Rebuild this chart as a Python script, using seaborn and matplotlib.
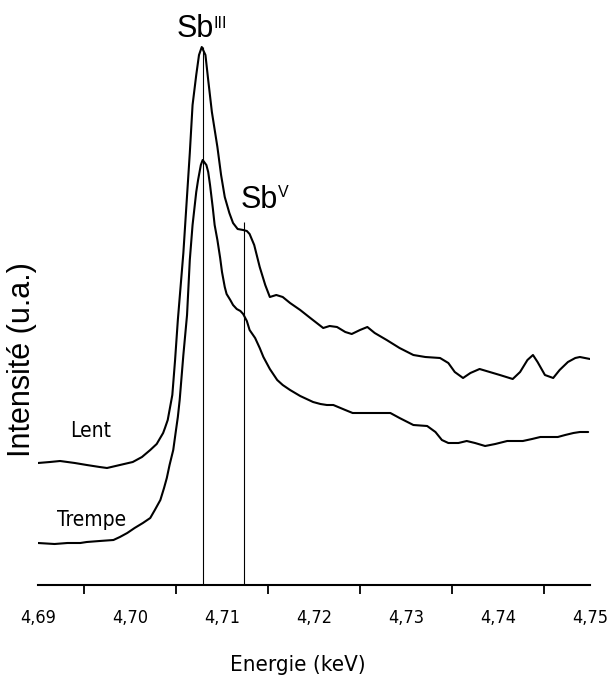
import matplotlib
matplotlib.use("Agg")
import matplotlib.pyplot as plt
from matplotlib.ticker import MultipleLocator, FuncFormatter
import pandas as pd
import seaborn as sns

# energie (keV) et intensite (u.a.)
lent_energy = [
    4.6900, 4.6913, 4.6924, 4.6940, 4.6953, 4.6967, 4.6975, 4.6989, 4.7003, 4.7013,
    4.7022, 4.7029, 4.7036, 4.7038, 4.7041, 4.7043, 4.7046, 4.7049, 4.7052, 4.7058,
    4.7061, 4.7065, 4.7068, 4.7072, 4.7075, 4.7078, 4.7082, 4.7085, 4.7089, 4.7095,
    4.7099, 4.7103, 4.7108, 4.7112, 4.7117, 4.7123, 4.7127, 4.7130, 4.7135, 4.7138,
    4.7141, 4.7147, 4.7152, 4.7159, 4.7166, 4.7174, 4.7185, 4.7196, 4.7210, 4.7217,
    4.7225, 4.7234, 4.7241, 4.7250, 4.7258, 4.7266, 4.7279, 4.7293, 4.7308, 4.7321,
    4.7337, 4.7346, 4.7353, 4.7362, 4.7370, 4.7380, 4.7391, 4.7402, 4.7416, 4.7424,
    4.7432, 4.7438, 4.7443, 4.7451, 4.7460, 4.7467, 4.7476, 4.7484, 4.7489, 4.7500,
]
lent_intensity = [
    1.22, 1.23, 1.24, 1.22, 1.20, 1.18, 1.17, 1.20, 1.23, 1.28,
    1.35, 1.41, 1.52, 1.57, 1.65, 1.75, 1.90, 2.25, 2.65, 3.32,
    3.75, 4.32, 4.80, 5.10, 5.30, 5.38, 5.30, 5.05, 4.73, 4.38,
    4.10, 3.88, 3.72, 3.62, 3.56, 3.55, 3.54, 3.51, 3.40, 3.29,
    3.18, 3.00, 2.88, 2.90, 2.88, 2.82, 2.75, 2.67, 2.57, 2.59,
    2.58, 2.53, 2.51, 2.55, 2.58, 2.52, 2.45, 2.37, 2.30, 2.28,
    2.27, 2.22, 2.13, 2.07, 2.12, 2.16, 2.13, 2.10, 2.06, 2.13,
    2.25, 2.30, 2.23, 2.10, 2.07, 2.15, 2.23, 2.27, 2.28, 2.26,
]

trempe_energy = [
    4.6900, 4.6918, 4.6932, 4.6946, 4.6953, 4.6967, 4.6982, 4.6989, 4.6997, 4.7005,
    4.7014, 4.7022, 4.7027, 4.7033, 4.7037, 4.7040, 4.7043, 4.7047, 4.7050, 4.7052,
    4.7054, 4.7058, 4.7062, 4.7065, 4.7068, 4.7072, 4.7074, 4.7077, 4.7079, 4.7083,
    4.7085, 4.7087, 4.7090, 4.7092, 4.7095, 4.7098, 4.7100, 4.7103, 4.7105, 4.7109,
    4.7112, 4.7116, 4.7120, 4.7123, 4.7127, 4.7130, 4.7136, 4.7141, 4.7145, 4.7152,
    4.7160, 4.7166, 4.7174, 4.7185, 4.7199, 4.7207, 4.7214, 4.7221, 4.7234, 4.7242,
    4.7255, 4.7272, 4.7283, 4.7293, 4.7308, 4.7323, 4.7332, 4.7339, 4.7346, 4.7357,
    4.7366, 4.7375, 4.7386, 4.7397, 4.7410, 4.7418, 4.7427, 4.7437, 4.7446, 4.7457,
    4.7465, 4.7473, 4.7482, 4.7489, 4.7498,
]
trempe_intensity = [
    0.42, 0.41, 0.42, 0.42, 0.43, 0.44, 0.45, 0.48, 0.52, 0.57,
    0.62, 0.67, 0.75, 0.85, 0.97, 1.07, 1.20, 1.35, 1.55, 1.68,
    1.85, 2.30, 2.70, 3.25, 3.60, 3.93, 4.05, 4.20, 4.25, 4.20,
    4.13, 4.00, 3.77, 3.60, 3.45, 3.27, 3.13, 2.98, 2.91, 2.85,
    2.80, 2.76, 2.74, 2.71, 2.64, 2.55, 2.47, 2.37, 2.28, 2.16,
    2.05, 2.00, 1.95, 1.89, 1.83, 1.81, 1.80, 1.80, 1.75, 1.72,
    1.72, 1.72, 1.72, 1.67, 1.60, 1.59, 1.53, 1.45, 1.42, 1.42,
    1.44, 1.42, 1.39, 1.41, 1.44, 1.44, 1.44, 1.46, 1.48, 1.48,
    1.48, 1.50, 1.52, 1.53, 1.53,
]

# positions des raies Sb(III) et Sb(V)
line_energy = [4.7079, 4.7124]
line_top = [5.38, 3.63]

df = pd.concat([
    pd.DataFrame({"E": lent_energy, "I": lent_intensity, "ech": "Lent"}),
    pd.DataFrame({"E": trempe_energy, "I": trempe_intensity, "ech": "Trempe"}),
])

sns.set_style("white")
plt.rcParams["font.family"] = ["Liberation Sans", "DejaVu Sans"]
plt.rcParams["text.color"] = "black"
plt.rcParams["xtick.color"] = "black"
narrow = dict(family="DejaVu Sans", stretch="condensed")

fig = plt.figure(figsize=(6.07, 6.93), dpi=100)
ax = fig.add_axes([38 / 607, 108 / 693, 552 / 607, 565 / 693])

sns.lineplot(data=df, x="E", y="I", units="ech", estimator=None, sort=False,
             color="black", linewidth=1.5, ax=ax, legend=False)
ax.vlines(line_energy, 0, line_top, color="black", linewidth=0.8)

ax.set_xlim(4.69, 4.75)
ax.set_ylim(0, 5.65)
ax.set_xlabel("")
ax.set_ylabel("")
ax.set_yticks([])
for s in ["left", "top", "right"]:
    ax.spines[s].set_visible(False)
ax.spines["bottom"].set_linewidth(1.5)
ax.spines["bottom"].set_color("black")

ax.xaxis.set_major_locator(MultipleLocator(0.01))
ax.xaxis.set_minor_locator(MultipleLocator(0.005))
ax.xaxis.set_major_formatter(FuncFormatter(lambda v, p: f"{v:.2f}".replace(".", ",")))
ax.tick_params(axis="x", which="major", direction="out", length=11, width=1.3,
               color="black", pad=6, labelsize=13)
ax.tick_params(axis="x", which="minor", direction="out", length=6.5, width=1.3,
               color="black", bottom=True)
for lab in ax.get_xticklabels():
    lab.set_family(narrow["family"])
    lab.set_stretch(narrow["stretch"])

# annotations
ax.text(4.70913, 5.48, "Sb", ha="right", va="baseline", fontsize=22)
ax.text(4.70913, 5.57, "III", ha="left", va="baseline", fontsize=11.5)
ax.text(4.71609, 3.77, "Sb", ha="right", va="baseline", fontsize=22)
ax.text(4.71609, 3.88, "V", ha="left", va="baseline", fontsize=11.5)
ax.text(4.6957, 1.48, "Lent", ha="center", va="baseline", fontsize=15, **narrow)
ax.text(4.6958, 0.59, "Trempe", ha="center", va="baseline", fontsize=15, **narrow)

fig.text(22 / 607, 1 - 360 / 693, "Intensité (u.a.)", rotation=90,
         ha="center", va="center", fontsize=22)
fig.text(298 / 607, 1 - 665 / 693, "Energie (keV)", ha="center", va="center",
         fontsize=16, **narrow)

fig.savefig("out.png", dpi=100)
